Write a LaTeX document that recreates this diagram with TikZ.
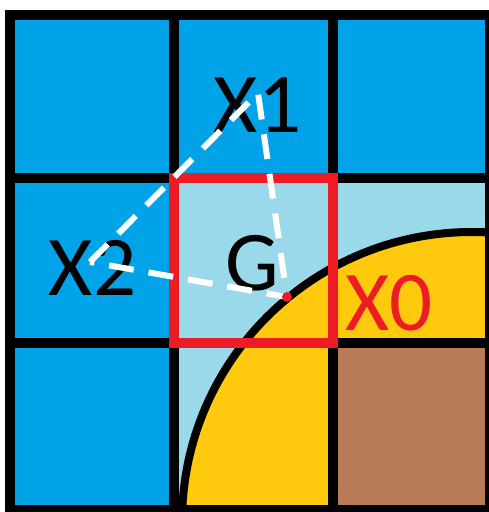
\documentclass[tikz,border=0pt]{standalone}
\usepackage{fontspec}
\setmainfont{Carlito}
\definecolor{cellblue}{RGB}{0,162,232}
\definecolor{celllight}{RGB}{153,217,234}
\definecolor{cellyellow}{RGB}{255,201,14}
\definecolor{cellbrown}{RGB}{185,122,87}
\definecolor{markred}{RGB}{237,28,36}
\tikzset{
	grid line/.style={line width=10pt, black},
	label/.style={inner sep=0pt, anchor=base, font=\fontsize{85}{100}\selectfont},
	link/.style={white, line width=6pt, dash pattern=on 25pt off 15pt},
}

\begin{document}
\begin{tikzpicture}[x=1pt,y=-1pt]
		\useasboundingbox (0,0) rectangle (489,512);
		\fill[celllight] (10,15) rectangle (490,510);
		\begin{scope}
			\clip (10,15) rectangle (490,510);
			\fill[cellyellow] (472,522) circle[radius=290pt];
			\draw[line width=8pt] (472,522) circle[radius=290pt];
		\end{scope}
		\foreach \xa/\ya/\xb/\yb in {10/15/174/178, 174/15/333/178, 333/15/490/178, 10/178/174/343, 10/343/174/510}
		{\fill[cellblue] (\xa,\ya) rectangle (\xb,\yb);}
		\fill[cellbrown] (333,343) rectangle (490,510);
		\foreach \x in {10,174,333,490}
		{\draw[grid line] (\x,10) -- (\x,515);}
		\foreach \y in {15,178,343,510}
		{\draw[grid line] (5,\y) -- (495,\y);}
		\draw[markred, line width=10pt] (174,178) rectangle (333,343);
		\node[label] (x1) at (257.5,132) {X1};
		\node[label] (x2) at (92.5,295) {X2};
		\node[label] (g) at (252,290) {G};
		\node[label, markred] (x0) at (389,330) {X0};
		\coordinate (p1) at (258,93);
		\coordinate (p2) at (90,262);
		\coordinate (p0) at (287,297);
		\draw[link] (p2) -- (p1) -- (p0) -- cycle;
		\fill[markred] (p0) circle (5pt);
\end{tikzpicture}
\end{document}
